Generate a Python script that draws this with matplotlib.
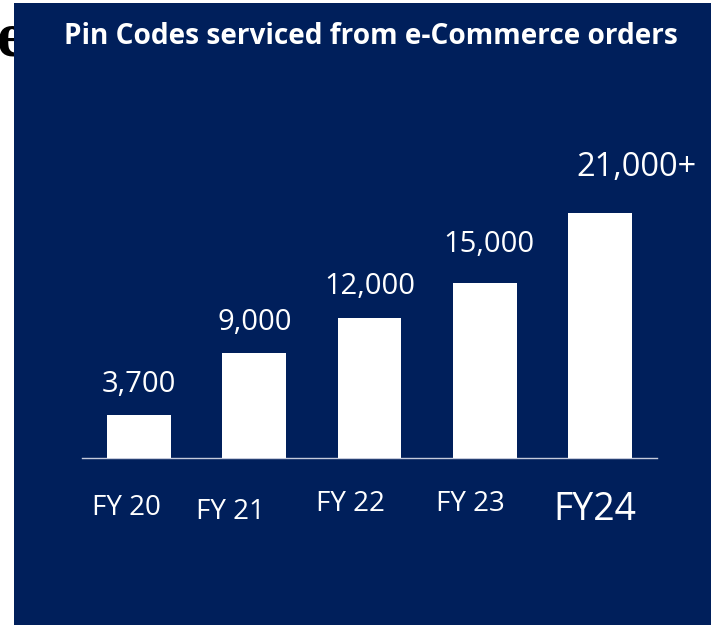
import matplotlib.pyplot as plt
from matplotlib.patches import Rectangle

# Pin codes serviced per fiscal year
years = ["FY 20", "FY 21", "FY 22", "FY 23", "FY24"]
pin_codes = [3700, 9000, 12000, 15000, 21000]
value_labels = ["3,700", "9,000", "12,000", "15,000", "21,000+"]

NAVY = "#001F5B"

plt.rcParams["font.family"] = ["Open Sans", "DejaVu Sans"]

fig = plt.figure(figsize=(7.11, 6.25), dpi=100)
fig.patch.set_facecolor("white")

# stray heading letter peeking out behind the panel
fig.text(-0.004, 0.935, "e", fontsize=46, fontweight="bold",
         family="Liberation Serif", color="black", va="center", ha="left",
         zorder=0)

# navy panel
fig.patches.append(Rectangle((14 / 711, 0), 1 - 14 / 711, 622 / 625,
                             transform=fig.transFigure, facecolor=NAVY,
                             edgecolor="none", zorder=1))

fig.text(371 / 711, 1 - 36 / 625, "Pin Codes serviced from e-Commerce orders",
         color="white", fontsize=20.2, fontweight="bold",
         ha="center", va="center", zorder=3)

ax = fig.add_axes([82 / 711, 1 - 458 / 625, 575 / 711, 245 / 625], zorder=2)
ax.set_facecolor("none")

x = range(len(years))
ax.bar(x, pin_codes, width=0.555, color="white", zorder=3)
ax.set_xlim(-0.495, 4.495)
ax.set_ylim(0, 21000)

for s in ["top", "left", "right"]:
    ax.spines[s].set_visible(False)
ax.spines["bottom"].set_color("#C5CADB")
ax.spines["bottom"].set_linewidth(1)
ax.set_xticks([])
ax.set_yticks([])

# value labels above the bars (pixel offsets: dx, dy, size)
value_style = [(0, 30, 21), (0, 30, 21), (0, 31, 21), (4, 39, 21), (37, 45, 23.5)]
for i, (v, lab) in enumerate(zip(pin_codes, value_labels)):
    dx, dy, fs = value_style[i]
    ax.annotate(lab, xy=(i, v), xytext=(dx, dy), textcoords="offset pixels",
                ha="center", va="center", color="white", fontsize=fs,
                annotation_clip=False)

# category labels below the baseline
year_style = [(-13, -50, 20), (-24, -54, 20), (-19, -46, 20), (-14, -46, 20), (-5, -52, 27)]
for i, yr in enumerate(years):
    dx, dy, fs = year_style[i]
    ax.annotate(yr, xy=(i, 0), xytext=(dx, dy), textcoords="offset pixels",
                ha="center", va="center", color="white", fontsize=fs,
                annotation_clip=False)

fig.savefig("out.png", dpi=100, facecolor=fig.get_facecolor())
